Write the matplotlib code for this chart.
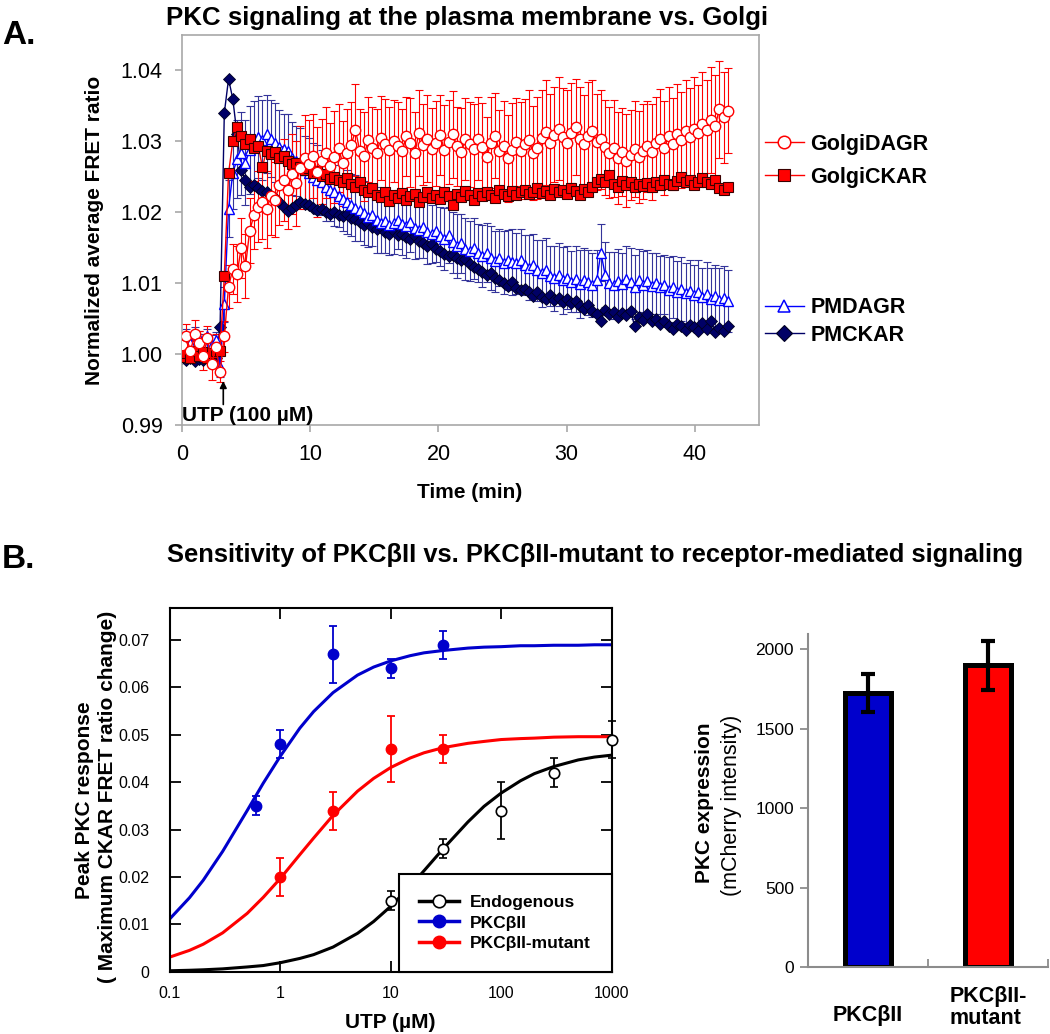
import numpy as np
import matplotlib
matplotlib.use('Agg')
import matplotlib.pyplot as plt
from matplotlib.lines import Line2D
from matplotlib.ticker import FormatStrFormatter, NullLocator

plt.rcParams['font.family'] = ['Liberation Sans', 'DejaVu Sans']

W, H = 1050, 1034

# ---------------- Panel A data ----------------
# normalized FRET ratio, stored as (ratio - 1) * 1000
t_step = 0.33  # min between frames

golgi_dagr = [1.3, 2.5, 0.4, 2.8, 1.6, -0.3, 2.2, -1.4, 1.0, -2.5,
              2.5, 9.5, 12.0, 11.3, 15.0, 12.4, 17.4, 19.6, 20.8, 21.5,
              20.4, 22.3, 21.8, 23.8, 24.6, 23.2, 25.4, 24.1, 26.3, 27.6,
              26.8, 27.9, 25.7, 27.2, 28.4, 26.5, 27.8, 29.0, 26.9, 28.3,
              29.5, 31.6, 28.7, 27.9, 30.2, 29.1, 28.4, 30.5, 29.6, 28.8,
              30.1, 29.3, 28.6, 30.7, 29.8, 28.3, 31.2, 29.5, 30.4, 28.9,
              29.7, 30.9, 28.8, 29.9, 31.0, 29.3, 28.5, 30.3, 29.6, 28.9,
              30.4, 29.2, 27.8, 29.8, 30.8, 28.6, 29.4, 27.6, 28.8, 29.9,
              28.7, 29.6, 30.2, 28.4, 29.1, 30.5, 31.3, 29.7, 30.9, 31.8,
              30.6, 29.8, 31.2, 32.0, 30.4, 29.6, 30.8, 31.5, 29.9, 30.3,
              29.2, 28.4, 29.0, 27.6, 28.5, 27.3, 28.1, 28.9, 27.8, 28.6,
              29.3, 28.5, 29.8, 30.4, 29.1, 30.7, 29.6, 31.0, 30.2, 31.4,
              30.6, 31.8, 31.2, 32.4, 31.6, 33.0, 32.2, 34.5, 33.4, 34.3]
golgi_dagr_err = [1.5, 1.8, 1.4, 2.0, 1.6, 1.9, 1.7, 2.2, 1.8, 1.5,
                  2.2, 3.0, 3.5, 4.0, 4.2, 4.5, 4.6, 4.8, 5.0, 5.2,
                  5.4, 5.5, 5.3, 5.6, 5.8, 5.5, 5.7, 6.0, 5.8, 6.1,
                  6.2, 5.9, 6.3, 6.0, 6.4, 6.1, 6.5, 6.2, 6.0, 6.3,
                  6.1, 6.5, 5.8, 6.3, 6.0, 5.7, 6.2, 5.9, 6.4, 6.0,
                  5.8, 6.2, 6.0, 5.6, 6.3, 5.9, 6.1, 5.7, 6.2, 5.8,
                  6.0, 5.7, 6.3, 5.9, 6.1, 5.6, 6.2, 5.8, 6.0, 6.3,
                  5.9, 6.2, 5.7, 6.4, 6.0, 5.8, 6.3, 6.1, 6.6, 6.2,
                  6.8, 6.4, 7.0, 6.6, 7.2, 6.8, 7.4, 7.0, 6.7, 7.3,
                  6.9, 7.5, 7.1, 6.8, 7.3, 6.9, 7.6, 7.2, 6.8, 7.0,
                  6.7, 6.4, 6.9, 6.5, 6.2, 6.6, 6.3, 6.8, 6.5, 6.7,
                  6.4, 6.8, 6.5, 7.0, 6.6, 6.9, 6.5, 7.1, 6.8, 7.2,
                  6.9, 7.3, 6.8, 7.4, 7.0, 7.5, 7.1, 6.8, 6.4, 6.0]
golgi_ckar = [-0.4, 0.2, -0.6, 0.4, -0.2, 0.3, -0.5, 0.1, 0.5, 0.5,
              11.0, 25.5, 30.0, 32.0, 30.8, 29.6, 30.3, 29.0, 29.4, 26.4,
              28.7, 28.2, 28.5, 27.6, 27.9, 27.2, 26.8, 27.0, 26.4, 25.9,
              26.2, 25.6, 25.8, 25.1, 25.4, 24.7, 25.0, 24.5, 24.2, 24.8,
              24.0, 23.6, 24.3, 23.2, 22.8, 23.4, 22.5, 22.1, 22.9, 21.6,
              22.4, 22.0, 22.7, 21.8, 22.3, 22.6, 21.5, 22.2, 22.8, 22.0,
              22.5, 21.9, 22.9, 22.3, 21.0, 22.6, 22.2, 23.0, 22.4, 21.8,
              22.7, 22.3, 22.9, 22.5, 22.0, 23.1, 22.6, 22.3, 23.0, 22.5,
              22.8, 23.2, 22.6, 22.9, 23.4, 22.7, 23.0, 22.4, 23.3, 22.8,
              23.1, 22.6, 23.4, 23.0, 22.5, 23.3, 22.8, 23.6, 24.2, 24.7,
              24.3, 25.2, 24.0, 23.6, 24.4, 23.8, 24.2, 23.5, 24.0, 23.7,
              24.1, 23.6, 24.3, 23.9, 24.6, 24.0, 23.8, 24.4, 25.0, 24.2,
              24.5, 23.9, 24.2, 24.8, 24.3, 24.0, 24.5, 23.4, 23.2, 23.5]
pm_dagr = [1.8, 2.6, 1.5, 2.9, 2.2, 1.7, 2.5, 1.3, 2.0, -1.8,
           7.0, 20.5, 25.5, 27.5, 28.3, 27.0, 28.8, 29.7, 30.6, 30.2,
           31.0, 30.4, 29.8, 29.2, 28.9, 28.6, 27.6, 27.2, 26.7, 26.0,
           25.5, 25.0, 24.6, 24.2, 23.6, 23.2, 22.8, 22.3, 21.9, 21.4,
           21.0, 20.6, 20.3, 19.9, 19.3, 19.6, 18.9, 18.5, 18.8, 18.2,
           18.5, 18.9, 18.3, 18.0, 18.6, 17.8, 17.5, 17.9, 17.2, 16.9,
           17.3, 16.6, 16.2, 16.8, 15.8, 15.2, 15.6, 14.8, 14.5, 14.9,
           14.2, 13.8, 14.3, 13.5, 13.1, 13.6, 12.9, 13.3, 13.0, 12.8,
           13.2, 12.6, 12.2, 12.5, 11.8, 11.4, 11.9, 11.0, 10.7, 11.2,
           10.4, 10.8, 10.2, 10.6, 9.9, 10.5, 10.1, 9.8, 10.4, 14.3,
           11.2, 10.0, 9.7, 10.3, 9.9, 10.6, 10.2, 9.5, 10.4, 9.8,
           10.3, 9.6, 10.0, 9.4, 9.8, 9.1, 9.5, 8.8, 9.2, 8.6,
           8.9, 8.3, 8.7, 8.0, 8.5, 7.8, 8.2, 7.6, 7.9, 7.5]
pm_dagr_err = [1.2, 1.0, 1.3, 0.9, 1.1, 1.2, 1.0, 1.4, 1.1, 1.5,
               2.5, 4.0, 5.0, 5.5, 5.8, 6.0, 6.2, 6.0, 5.8, 5.6,
               5.5, 5.4, 5.6, 5.2, 5.0, 5.3, 5.1, 4.9, 5.2, 4.8,
               5.0, 4.7, 4.9, 4.6, 4.8, 4.5, 4.7, 4.4, 4.6, 4.5,
               4.4, 4.6, 4.3, 4.5, 4.2, 4.4, 4.6, 4.3, 4.5, 4.2,
               4.4, 4.1, 4.3, 4.5, 4.2, 4.4, 4.0, 4.3, 4.5, 4.1,
               4.3, 4.2, 4.4, 4.0, 4.3, 4.5, 4.1, 4.4, 4.2, 4.3,
               4.1, 4.4, 4.2, 4.5, 4.3, 4.0, 4.4, 4.2, 4.6, 4.3,
               4.5, 4.2, 4.6, 4.4, 4.3, 4.7, 4.5, 4.2, 4.6, 4.4,
               4.7, 4.5, 4.3, 4.6, 4.8, 4.4, 4.6, 4.5, 4.3, 4.0,
               4.6, 4.4, 4.7, 4.5, 4.3, 4.6, 4.8, 4.5, 4.4, 4.7,
               4.4, 4.6, 4.3, 4.5, 4.2, 4.6, 4.4, 4.3, 4.5, 4.2,
               4.4, 4.3, 4.6, 4.2, 4.5, 4.4, 4.3, 4.6, 4.5, 4.4]
pm_ckar = [-0.5, -0.8, -0.6, -1.0, -0.7, -0.9, -0.4, -0.8, -0.6, 3.8,
           34.0, 38.8, 36.0, 31.0, 26.0, 24.5, 23.6, 23.8, 23.4, 23.0,
           22.8, 22.3, 22.0, 21.5, 20.8, 20.2, 20.6, 21.0, 21.4, 21.2,
           21.0, 20.6, 20.3, 20.5, 20.0, 19.8, 20.1, 19.6, 19.5, 19.8,
           19.2, 19.0, 18.6, 18.2, 18.5, 17.9, 17.6, 17.9, 17.2, 17.0,
           17.3, 16.8, 16.9, 16.5, 16.2, 16.6, 15.9, 15.6, 15.2, 15.5,
           14.8, 14.5, 14.1, 13.8, 14.0, 13.5, 13.2, 13.4, 12.7, 12.3,
           12.0, 11.6, 11.2, 11.5, 10.8, 10.4, 10.0, 9.6, 10.1, 9.3,
           9.0, 9.2, 8.7, 8.2, 8.8, 8.0, 7.7, 8.3, 7.6, 7.9,
           7.4, 7.7, 7.2, 7.5, 6.8, 6.4, 6.9, 6.1, 5.7, 4.7,
           6.2, 5.6, 5.9, 5.2, 5.8, 5.5, 6.1, 3.9, 5.3, 4.8,
           5.6, 4.6, 5.0, 4.2, 4.7, 4.0, 3.6, 4.3, 3.9, 3.4,
           4.1, 3.8, 3.3, 4.4, 3.5, 4.6, 3.1, 3.7, 3.2, 3.9]

utp_time = 3.22  # min, when UTP was added

# ---------------- Panel B data ----------------
utp_endo = [10, 30, 100, 300, 1000]
resp_endo = [0.015, 0.026, 0.034, 0.042, 0.049]
err_endo = [0.002, 0.002, 0.006, 0.003, 0.004]
utp_wt = [0.6, 1, 3, 10, 30]
resp_wt = [0.035, 0.048, 0.067, 0.064, 0.069]
err_wt = [0.002, 0.003, 0.006, 0.002, 0.003]
utp_mut = [1, 3, 10, 30]
resp_mut = [0.020, 0.034, 0.047, 0.047]
err_mut = [0.004, 0.004, 0.007, 0.003]

# fitted curves, read at these concentrations
fit_x = [0.1, 0.15, 0.2, 0.3, 0.5, 0.7, 1, 1.5, 2, 3, 5, 7, 10, 15, 20, 30,
         50, 70, 100, 150, 200, 300, 500, 700, 1000]
fit_wt = [0.0112, 0.0156, 0.0193, 0.0254, 0.0340, 0.0398, 0.0455, 0.0514,
          0.0549, 0.0589, 0.0626, 0.0643, 0.0656, 0.0667, 0.0673, 0.0678,
          0.0683, 0.0685, 0.0686, 0.0688, 0.0688, 0.0689, 0.0689, 0.0690, 0.0690]
fit_mut = [0.0031, 0.0045, 0.0058, 0.0082, 0.0123, 0.0157, 0.0197, 0.0247,
           0.0282, 0.0330, 0.0381, 0.0408, 0.0431, 0.0451, 0.0462, 0.0473,
           0.0482, 0.0486, 0.0490, 0.0492, 0.0493, 0.0495, 0.0496, 0.0496, 0.0496]
fit_endo = [0.0002, 0.0003, 0.0004, 0.0006, 0.0010, 0.0013, 0.0019, 0.0028,
            0.0036, 0.0052, 0.0081, 0.0106, 0.0138, 0.0180, 0.0213, 0.0260,
            0.0316, 0.0349, 0.0377, 0.0403, 0.0418, 0.0433, 0.0447, 0.0453, 0.0457]

bar_labels = ['PKCβII', 'PKCβII-\nmutant']
bar_vals = [1725, 1900]
bar_err = [118, 155]

BLUE = '#0000CC'
RED = '#FF0000'
NAVY = '#000066'


def fx(px):
    return px / W


def fy(py):
    return 1 - py / H


def ratio(v):
    return 1 + np.array(v) / 1000.0


fig = plt.figure(figsize=(W / 100, H / 100), dpi=100)

# ================= Panel A =================
axA = fig.add_axes([fx(182), fy(425), (759 - 182) / W, (425 - 35) / H])
t = np.arange(len(golgi_dagr)) * t_step

axA.errorbar(t, ratio(pm_dagr), yerr=np.array(pm_dagr_err) / 1000, fmt='none',
             ecolor='#34349a', elinewidth=0.8, capsize=2.8, capthick=0.8, zorder=1)
axA.errorbar(t, ratio(golgi_dagr), yerr=np.array(golgi_dagr_err) / 1000, fmt='none',
             ecolor=RED, elinewidth=0.8, capsize=2.8, capthick=0.8, zorder=1.5)
axA.plot(t, ratio(pm_ckar), '-', color=NAVY, lw=1, marker='D', ms=6.5,
         mfc=NAVY, mec='#000022', mew=0.6, zorder=2)
axA.plot(t, ratio(pm_dagr), '-', color='#0000FF', lw=1, marker='^', ms=7.5,
         mfc='white', mec='#0000FF', mew=1.0, zorder=3)
axA.plot(t, ratio(golgi_ckar), '-', color=RED, lw=1, marker='s', ms=7,
         mfc=RED, mec='#3a0000', mew=0.8, zorder=4)
axA.plot(t, ratio(golgi_dagr), '-', color=RED, lw=1, marker='o', ms=7.5,
         mfc='white', mec=RED, mew=1.0, zorder=5)

axA.set_xlim(0, 45)
axA.set_ylim(0.99, 1.045)
axA.set_xticks([0, 10, 20, 30, 40])
axA.set_yticks([0.99, 1.00, 1.01, 1.02, 1.03, 1.04])
axA.yaxis.set_major_formatter(FormatStrFormatter('%.2f'))
for sp in axA.spines.values():
    sp.set_color('#a8a8a8')
    sp.set_linewidth(1.2)
axA.tick_params(direction='out', length=5, width=1.2, color='#a8a8a8',
                labelsize=15.5, pad=9)

axA.text(0, 0.9913, 'UTP (100 µM)', ha='left', va='center', fontsize=15,
         fontweight='bold')
axA.annotate('', xy=(utp_time, 0.9966), xytext=(utp_time, 0.9925),
             arrowprops=dict(arrowstyle='-|>', color='black', lw=1.2,
                             mutation_scale=10))

h_gd = Line2D([], [], color=RED, lw=1, marker='o', ms=9, mfc='white', mec=RED, mew=1.1)
h_gc = Line2D([], [], color=RED, lw=1, marker='s', ms=9, mfc=RED, mec='#3a0000', mew=0.8)
h_pd = Line2D([], [], color='#0000FF', lw=1, marker='^', ms=9, mfc='white', mec='#0000FF', mew=1.1)
h_pc = Line2D([], [], color=NAVY, lw=1, marker='D', ms=8, mfc=NAVY, mec='#000022', mew=0.8)
leg_kw = dict(frameon=False, borderpad=0, borderaxespad=0, handlelength=1.8,
              handletextpad=0.3, loc='center left',
              prop={'weight': 'bold', 'size': 15.5})
legA1 = axA.legend([h_gd, h_gc], ['GolgiDAGR', 'GolgiCKAR'],
                   bbox_to_anchor=(1.0104, 0.678), labelspacing=0.55, **leg_kw)
axA.add_artist(legA1)
axA.legend([h_pd, h_pc], ['PMDAGR', 'PMCKAR'],
           bbox_to_anchor=(1.0104, 0.265), labelspacing=0.3, **leg_kw)

fig.text(fx(2), fy(36), 'A.', fontsize=24, fontweight='bold', ha='left', va='center')
fig.text(fx(467), fy(18), 'PKC signaling at the plasma membrane vs. Golgi',
         fontsize=18.6, fontweight='bold', ha='center', va='center')
fig.text(fx(95), fy(230), 'Normalized average FRET ratio', rotation=90,
         fontsize=15, fontweight='bold', ha='center', va='center')
fig.text(fx(470), fy(492), 'Time (min)', fontsize=15, fontweight='bold',
         ha='center', va='center')

# ================= Panel B (dose response) =================
axB = fig.add_axes([fx(170), fy(971.7), (611.5 - 170) / W, (971.7 - 608.3) / H])
axB.set_xscale('log')
axB.plot(fit_x, fit_endo, color='black', lw=2.2, zorder=2)
axB.plot(fit_x, fit_wt, color=BLUE, lw=2.2, zorder=2)
axB.plot(fit_x, fit_mut, color=RED, lw=2.2, zorder=2)
axB.errorbar(utp_endo, resp_endo, yerr=err_endo, fmt='o', color='black', ms=7.5,
             mfc='white', mec='black', mew=1.2, elinewidth=1.3, capsize=3,
             capthick=1.3, zorder=3, clip_on=False)
axB.errorbar(utp_wt, resp_wt, yerr=err_wt, fmt='o', color=BLUE, ms=7.5,
             mfc=BLUE, mec=BLUE, elinewidth=1.3, capsize=3, capthick=1.3, zorder=3)
axB.errorbar(utp_mut, resp_mut, yerr=err_mut, fmt='o', color=RED, ms=7.5,
             mfc=RED, mec=RED, elinewidth=1.3, capsize=3, capthick=1.3, zorder=3)

axB.set_xlim(0.1, 1000)
axB.set_ylim(0, 0.0767)
axB.set_xticks([0.1, 1, 10, 100, 1000])
axB.set_xticklabels(['0.1', '1', '10', '100', '1000'])
axB.xaxis.set_minor_locator(NullLocator())
axB.set_yticks([0, 0.01, 0.02, 0.03, 0.04, 0.05, 0.06, 0.07])
axB.set_yticklabels(['0', '0.01', '0.02', '0.03', '0.04', '0.05', '0.06', '0.07'])
for sp in axB.spines.values():
    sp.set_linewidth(1.5)
axB.tick_params(direction='in', length=8, width=1.3, top=True, right=True,
                labelsize=11.5)
axB.tick_params(axis='y', pad=15)
axB.tick_params(axis='x', pad=10)

hB = [Line2D([], [], color='black', lw=2.5, marker='o', ms=9, mfc='white', mec='black', mew=1.2),
      Line2D([], [], color=BLUE, lw=2.5, marker='o', ms=9, mfc=BLUE, mec=BLUE),
      Line2D([], [], color=RED, lw=2.5, marker='o', ms=9, mfc=RED, mec=RED)]
legB = axB.legend(hB, ['Endogenous', 'PKCβII', 'PKCβII-mutant'], loc='lower right',
                  borderaxespad=0, fancybox=False, handlelength=2.3,
                  handletextpad=0.6, labelspacing=0.3, borderpad=1.2,
                  prop={'weight': 'bold', 'size': 12.5})
legB.get_frame().set_edgecolor('black')
legB.get_frame().set_linewidth(1.5)
legB.get_frame().set_alpha(1)

fig.text(fx(2), fy(560), 'B.', fontsize=24, fontweight='bold', ha='left', va='center')
fig.text(fx(595), fy(555),
         'Sensitivity of PKCβII vs. PKCβII-mutant to receptor-mediated signaling',
         fontsize=18.4, fontweight='bold', ha='center', va='center')
fig.text(fx(84), fy(800), 'Peak PKC response', rotation=90, fontsize=15,
         fontweight='bold', ha='center', va='center')
fig.text(fx(108), fy(797), '( Maximum CKAR FRET ratio change)', rotation=90,
         fontsize=15, fontweight='bold', ha='center', va='center')
fig.text(fx(390), fy(1022), 'UTP (µM)', fontsize=15, fontweight='bold',
         ha='center', va='center')

# ================= Panel B (expression bars) =================
axC = fig.add_axes([fx(808), fy(967.3), (1048 - 808) / W, (967.3 - 634) / H])
xpos = np.arange(len(bar_vals))
axC.bar(xpos, bar_vals, width=0.39, color=[BLUE, RED], edgecolor='black',
        linewidth=3.6, zorder=2,
        yerr=bar_err, error_kw=dict(ecolor='black', elinewidth=3, capsize=4.7,
                                    capthick=3, zorder=3))
axC.set_xlim(-0.5, 1.5)
axC.set_ylim(0, 2096)
axC.set_yticks([0, 500, 1000, 1500, 2000])
axC.set_xticks([0.5, 1.5])
axC.set_xticklabels([])
for side in ['top', 'right']:
    axC.spines[side].set_visible(False)
for side in ['left', 'bottom']:
    axC.spines[side].set_color('#8c8c8c')
    axC.spines[side].set_linewidth(1.5)
axC.tick_params(axis='y', direction='out', length=6, width=1.3, color='#8c8c8c',
                labelsize=12.5, pad=4)
axC.tick_params(axis='x', direction='in', length=6, width=1.3, color='#8c8c8c')
for x, lab, yy in zip(xpos, bar_labels, [-0.144, -0.12]):
    axC.text(x, yy, lab, transform=axC.get_xaxis_transform(), ha='center',
             va='center', fontsize=15.5, fontweight='bold', linespacing=1.05,
             multialignment='left')

fig.text(fx(705), fy(803), 'PKC expression', rotation=90, fontsize=15,
         fontweight='bold', ha='center', va='center')
fig.text(fx(732), fy(805), '(mCherry intensity)', rotation=90, fontsize=15.5,
         ha='center', va='center')

fig.savefig('out.png', dpi=100)
